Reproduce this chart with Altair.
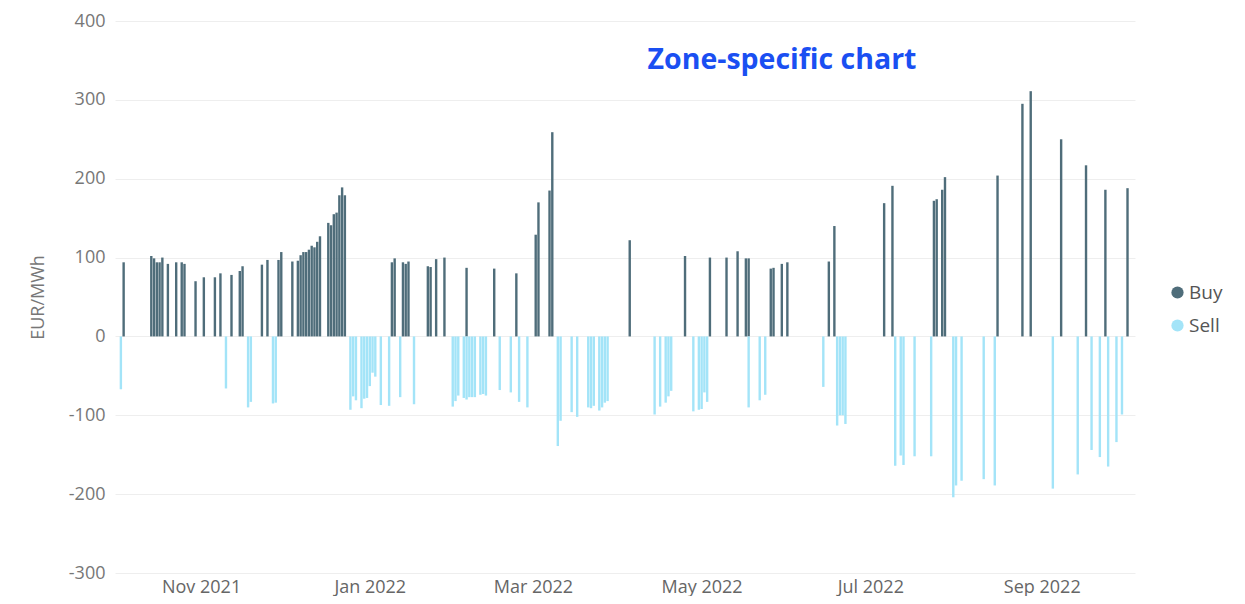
import altair as alt
import pandas as pd

buy_dates = [
    "2021-10-04", "2021-10-14", "2021-10-15", "2021-10-16", "2021-10-17", "2021-10-18",
    "2021-10-20", "2021-10-23", "2021-10-25", "2021-10-26", "2021-10-30",
    "2021-11-02", "2021-11-06", "2021-11-08", "2021-11-12", "2021-11-15", "2021-11-16",
    "2021-11-23", "2021-11-25", "2021-11-29", "2021-11-30",
    "2021-12-04", "2021-12-06", "2021-12-07", "2021-12-08", "2021-12-09", "2021-12-10",
    "2021-12-11", "2021-12-12", "2021-12-13", "2021-12-14",
    "2021-12-17", "2021-12-18", "2021-12-19", "2021-12-20", "2021-12-21", "2021-12-22", "2021-12-23",
    "2022-01-09", "2022-01-10", "2022-01-13", "2022-01-14", "2022-01-15",
    "2022-01-22", "2022-01-23", "2022-01-25", "2022-01-28",
    "2022-02-05", "2022-02-15", "2022-02-23",
    "2022-03-02", "2022-03-03", "2022-03-07", "2022-03-08",
    "2022-04-05", "2022-04-25",
    "2022-05-04", "2022-05-10", "2022-05-14", "2022-05-17", "2022-05-18",
    "2022-05-26", "2022-05-27", "2022-05-30", "2022-06-01",
    "2022-06-16", "2022-06-18",
    "2022-07-06", "2022-07-09", "2022-07-24", "2022-07-25", "2022-07-27", "2022-07-28",
    "2022-08-16", "2022-08-25", "2022-08-28",
    "2022-09-08", "2022-09-17", "2022-09-24", "2022-10-02",
]
buy_values = [
    94, 102, 99, 94, 94, 100,
    92, 94, 94, 92, 70,
    75, 75, 80, 78, 83, 89,
    91, 97, 97, 107,
    95, 96, 103, 107, 107, 110,
    115, 113, 120, 127,
    144, 141, 155, 157, 179, 189, 179,
    94, 99, 94, 92, 95,
    89, 88, 98, 100,
    87, 86, 80,
    129, 170, 185, 259,
    122, 102,
    100, 100, 108, 99, 99,
    86, 87, 92, 94,
    95, 140,
    169, 191, 172, 174, 186, 202,
    204, 295, 311,
    250, 217, 186, 188,
]

sell_dates = [
    "2021-10-03", "2021-11-10", "2021-11-18", "2021-11-19", "2021-11-27", "2021-11-28",
    "2021-12-25", "2021-12-26", "2021-12-27",
    "2021-12-29", "2021-12-30", "2021-12-31", "2022-01-01", "2022-01-02", "2022-01-03",
    "2022-01-05", "2022-01-08", "2022-01-12", "2022-01-17",
    "2022-01-31", "2022-02-01", "2022-02-02",
    "2022-02-04", "2022-02-05", "2022-02-06", "2022-02-07", "2022-02-08",
    "2022-02-10", "2022-02-11", "2022-02-12",
    "2022-02-17", "2022-02-21", "2022-02-24", "2022-02-27",
    "2022-03-10", "2022-03-11", "2022-03-15", "2022-03-17",
    "2022-03-21", "2022-03-22", "2022-03-23", "2022-03-25", "2022-03-26", "2022-03-27", "2022-03-28",
    "2022-04-14", "2022-04-16", "2022-04-18", "2022-04-19", "2022-04-20",
    "2022-04-28", "2022-04-30", "2022-05-01", "2022-05-02", "2022-05-03",
    "2022-05-18", "2022-05-22", "2022-05-24",
    "2022-06-14", "2022-06-19", "2022-06-20", "2022-06-21", "2022-06-22",
    "2022-07-10", "2022-07-12", "2022-07-13", "2022-07-17", "2022-07-23",
    "2022-07-31", "2022-08-01", "2022-08-03",
    "2022-08-11", "2022-08-15",
    "2022-09-05", "2022-09-14", "2022-09-19", "2022-09-22", "2022-09-25", "2022-09-28", "2022-09-30",
]
sell_values = [
    -67, -66, -90, -83, -85, -84,
    -93, -76, -81,
    -91, -79, -78, -63, -46, -51,
    -87, -88, -77, -86,
    -89, -82, -75,
    -78, -80, -77, -77, -77,
    -74, -73, -75,
    -68, -71, -83, -90,
    -139, -107, -96, -102,
    -90, -91, -88, -94, -90, -84, -82,
    -99, -89, -84, -76, -69,
    -95, -93, -92, -71, -83,
    -90, -81, -74,
    -64, -113, -100, -100, -111,
    -164, -151, -163, -152, -152,
    -204, -189, -183,
    -181, -189,
    -193, -175, -144, -153, -165, -134, -99,
]

series_names = ["Buy", "Sell"]
series_colors = ["#4f6d7a", "#a3e4f8"]
chart_title = "Zone-specific chart"
y_ticks = [-300, -200, -100, 0, 100, 200, 300, 400]

df = pd.concat([
    pd.DataFrame({"date": buy_dates, "value": buy_values, "series": "Buy"}),
    pd.DataFrame({"date": sell_dates, "value": sell_values, "series": "Sell"}),
])

FONT = "Open Sans"

tick_dates = [alt.DateTime(year=y, month=m, date=1, utc=True)
              for y, m in [(2021, 11), (2022, 1), (2022, 3), (2022, 5), (2022, 7), (2022, 9)]]

bars = alt.Chart(df).mark_bar(size=2.4).encode(
    x=alt.X(
        "date:T",
        scale=alt.Scale(
            type="utc",
            padding=0,
            nice=False,
            domain=[alt.DateTime(year=2021, month=9, date=30, hours=21, utc=True),
                    alt.DateTime(year=2022, month=10, date=4, hours=17, utc=True)],
        ),
        axis=alt.Axis(
            values=tick_dates, labelExpr="utcFormat(datum.value, '%b %Y')", title=None,
            grid=False, domain=False, ticks=False, labelFontSize=18,
            labelColor="#666666", labelFont=FONT, labelPadding=5,
        ),
    ),
    y=alt.Y(
        "value:Q",
        scale=alt.Scale(domain=[-300, 400], nice=False),
        axis=alt.Axis(
            values=y_ticks, labelExpr="toString(datum.value)",
            title="EUR/MWh", titleFontSize=18, titleFontWeight="normal",
            titleColor="#777777", titleFont=FONT, titlePadding=21,
            labelFontSize=18, labelColor="#777777", labelFont=FONT, labelPadding=10,
            grid=True, gridColor="#eeeeee", domain=False, ticks=False,
        ),
    ),
    color=alt.Color(
        "series:N",
        scale=alt.Scale(domain=series_names, range=series_colors),
        legend=alt.Legend(
            title=None, orient="none", legendX=1053, legendY=262,
            symbolType="circle", symbolSize=150, symbolStrokeWidth=0,
            labelFontSize=19, labelColor="#555555", labelFont=FONT,
            rowPadding=13, labelOffset=2,
        ),
    ),
)

title_text = alt.Chart(pd.DataFrame({"t": [chart_title]})).mark_text(
    font=FONT, fontSize=28.5, fontWeight="bold", color="#1a4ff2", align="center", baseline="middle",
).encode(
    x=alt.value(667), y=alt.value(39), text="t:N",
)

chart = alt.layer(bars, title_text).properties(
    width=1020, height=552,
    autosize=alt.AutoSizeParams(type="none"),
    padding={"left": 107, "top": 13, "right": 100, "bottom": 23},
).configure_view(stroke=None)

chart.save("out.html", embed_options={"renderer": "svg", "actions": False})
